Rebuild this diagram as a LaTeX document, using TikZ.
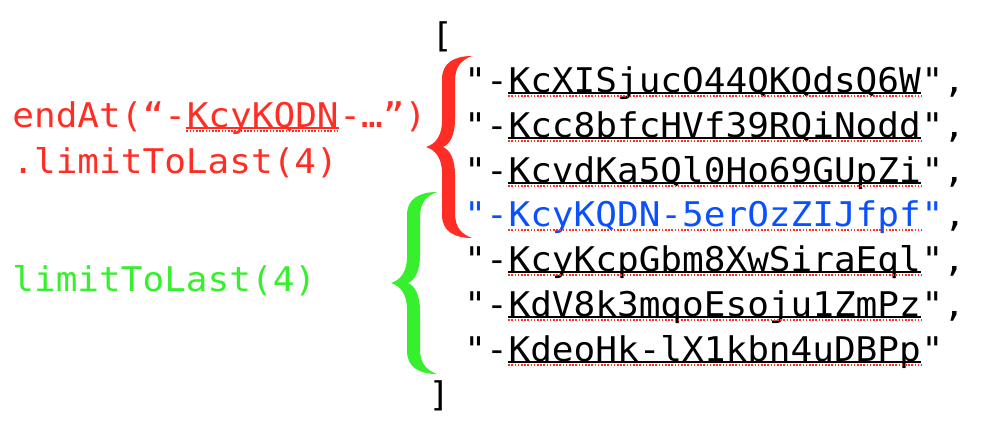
\documentclass[tikz,border=0pt]{standalone}
\usepackage{fontspec}
\newfontfamily\codefont[FakeStretch=1.06]{DejaVu Sans Mono}

\definecolor{keyred}{RGB}{255,45,35}
\definecolor{keygreen}{RGB}{55,240,45}
\definecolor{keyblue}{RGB}{10,80,255}

\begin{document}
\begin{tikzpicture}[
    x=0.5pt, y=-0.5pt,
    code/.style = {font=\codefont\fontsize{17}{20}\selectfont, inner sep=0pt, anchor=base west, text depth=0pt},
    uline/.style = {line width=0.65pt},
    spell/.style = {draw=keyred, line width=0.8pt, dash pattern=on 0.8pt off 0.8pt},
    curly/.pic = {
        \fill (46,91) .. controls (28,91) and (16,84) .. (16,68) -- (16,26)
              .. controls (16,12) and (10,3) .. (0,0)
              .. controls (10,-3) and (16,-12) .. (16,-26) -- (16,-68)
              .. controls (16,-84) and (28,-91) .. (46,-91)
              .. controls (35,-87) and (29,-80) .. (29,-66) -- (29,-28)
              .. controls (29,-12) and (24,-3) .. (17,0)
              .. controls (24,3) and (29,12) .. (29,28) -- (29,66)
              .. controls (29,80) and (35,87) .. (46,91) -- cycle;
    }
]
\useasboundingbox (0,0) rectangle (998,430);

% =========================================================
% QUERY LABELS (left)
% =========================================================
\node[code, text=keyred] (end1) at (12,127) {endAt(“-};
\node[code, text=keyred] (endk) at (end1.base east) {KcyKQDN};
\node[code, text=keyred] (end2) at (endk.base east) {-…”)};
\node[code, text=keyred] (last) at (12,173) {.limitToLast(4)};

\node[code, text=keygreen] (lim) at (12,291) {limitToLast(4)};

% =========================================================
% KEY LIST (right)
% =========================================================
\node[code] (open) at (431,47) {[};

\node[code] (o1) at (464,92) {"-};
\node[code] (k1) at (o1.base east) {KcXISjucO44QKQdsQ6W};
\node[code] (c1) at (k1.base east) {",};

\node[code] (o2) at (464,137) {"-};
\node[code] (k2) at (o2.base east) {Kcc8bfcHVf39RQiNodd};
\node[code] (c2) at (k2.base east) {",};

\node[code] (o3) at (464,182) {"-};
\node[code] (k3) at (o3.base east) {KcvdKa5Ql0Ho69GUpZi};
\node[code] (c3) at (k3.base east) {",};

% the endAt key
\node[code, text=keyblue] (o4) at (464,226) {"-};
\node[code, text=keyblue] (k4) at (o4.base east) {KcyKQDN-5erOzZIJfpf};
\node[code, text=keyblue] (c4) at (k4.base east) {"};
\node[code] (c4b) at (c4.base east) {,};

\node[code] (o5) at (464,271) {"-};
\node[code] (k5) at (o5.base east) {KcyKcpGbm8XwSiraEql};
\node[code] (c5) at (k5.base east) {",};

\node[code] (o6) at (464,316) {"-};
\node[code] (k6) at (o6.base east) {KdV8k3mqoEsoju1ZmPz};
\node[code] (c6) at (k6.base east) {",};

\node[code] (o7) at (464,361) {"-};
\node[code] (k7) at (o7.base east) {KdeoHk-lX1kbn4uDBPp};
\node[code] (c7) at (k7.base east) {"};

\node[code] (close) at (428,406) {]};

% =========================================================
% UNDERLINES (solid + spell-check dots)
% =========================================================
\foreach \k in {k1,k2,k3,k5,k6,k7}
    \draw[uline] ([yshift=-0.3pt]\k.south west) -- ([yshift=-0.3pt]\k.south east);
\foreach \k in {k1,k2,k3,k4,k5,k6,k7,endk}
    \draw[spell] ([yshift=-1.9pt]\k.south west) -- ([yshift=-1.9pt]\k.south east);
\draw[uline, keyred, line width=0.55pt] ([yshift=-0.3pt]endk.south west) -- ([yshift=-0.3pt]endk.south east);

% =========================================================
% BRACES
% =========================================================
\pic[keyred] (redbrace) at (426,147) {curly};
\pic[keygreen] (greenbrace) at (391,283) {curly};

\end{tikzpicture}
\end{document}
